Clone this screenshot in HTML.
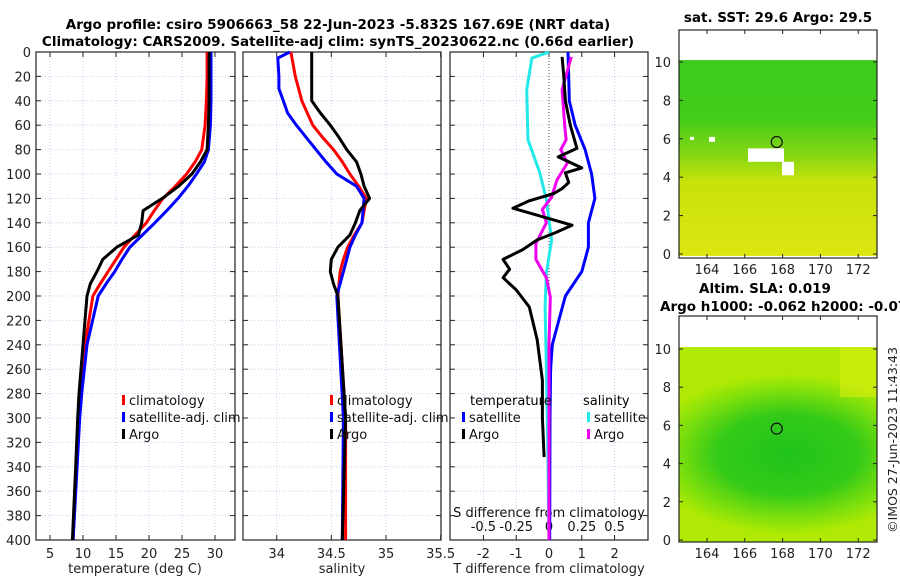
<!DOCTYPE html>
<html><head><meta charset="utf-8"><style>
body{margin:0;background:#fff;width:900px;height:580px;overflow:hidden}
svg{font-family:"DejaVu Sans","Liberation Sans",sans-serif}
</style></head><body>
<svg id="fig" width="900" height="580" viewBox="0 0 900 580" xmlns="http://www.w3.org/2000/svg">
<defs>
<linearGradient id="sstg" x1="0" y1="0" x2="0" y2="1">
<stop offset="0" stop-color="#3ccc1c"/><stop offset="0.3" stop-color="#44cc1a"/><stop offset="0.5" stop-color="#8cd812"/><stop offset="0.62" stop-color="#c8e20a"/><stop offset="1" stop-color="#dce610"/></linearGradient>
<radialGradient id="slag" cx="0.55" cy="0.55" r="0.55" gradientTransform="translate(0.55 0.55) scale(1.3 0.75) translate(-0.55 -0.55)">
<stop offset="0" stop-color="#20c41c"/><stop offset="0.5" stop-color="#34ca18"/><stop offset="0.8" stop-color="#80e00c"/><stop offset="1" stop-color="#b0ea04"/></radialGradient>
</defs>
<g id="root"></g>
</svg>
<script>
// ---- data ----
const depthT = [0,20,40,60,80,90,100,110,120,130,140,150,160,170,180,190,200,240,280,300,340,400];
const argoT  = [29.1,29.1,29.1,29.0,28.8,27.8,26.5,24.5,22.0,19.1,18.9,18.4,15.1,13.0,12.1,11.1,10.6,10.0,9.4,9.2,8.9,8.4];
const climT  = [28.8,28.8,28.7,28.5,28.0,27.0,25.7,24.0,22.1,20.8,19.6,17.9,16.2,15.0,13.8,12.6,11.5,10.3,9.6,9.4,9.0,8.5];
const satT   = [29.4,29.4,29.4,29.3,29.0,28.4,27.2,25.9,24.4,22.7,20.9,19.0,17.1,15.9,14.8,13.5,12.3,10.6,9.8,9.5,9.1,8.5];
const depthS = [0,5,20,30,40,50,60,70,80,90,100,110,120,130,140,150,160,170,180,190,200,300,400];
const argoS  = [34.32,34.32,34.32,34.32,34.32,34.40,34.49,34.57,34.64,34.73,34.77,34.80,34.85,34.76,34.72,34.67,34.56,34.50,34.49,34.52,34.56,34.63,34.60];
const climS  = [34.13,34.14,34.17,34.20,34.23,34.28,34.33,34.42,34.52,34.60,34.67,34.75,34.82,34.80,34.78,34.71,34.65,34.61,34.58,34.57,34.56,34.63,34.63];
const satS   = [34.12,34.01,34.02,34.02,34.06,34.10,34.18,34.27,34.36,34.45,34.55,34.73,34.80,34.79,34.78,34.72,34.67,34.64,34.61,34.58,34.55,34.61,34.60];
const depthD = [4,20,40,60,79,86,95,99,107,112,116,122,128,135,142,148,154,162,170,178,185,195,209,236,269,300,332];
const argoDT = [0.4,0.45,0.5,0.65,0.85,0.28,1.0,0.5,0.6,0.4,0.15,-0.6,-1.1,-0.2,0.7,0.2,-0.36,-0.8,-1.4,-1.2,-1.4,-1.0,-0.6,-0.36,-0.2,-0.2,-0.15];
const depthSat = [0,20,40,60,80,100,120,140,160,180,200,220,240,260,300,400];
const satDT  = [0.58,0.6,0.62,0.8,1.1,1.3,1.4,1.2,1.2,1.0,0.5,0.3,0.1,0.05,0.03,0.02];
const depthSS = [0,5,31,72,99,121,154,181,209,260,320,400];
const satDS  = [0.0,-0.13,-0.17,-0.16,-0.07,-0.02,0.02,-0.02,-0.03,-0.02,-0.01,0.0];
const depthAS = [4,31,60,72,80,91,105,119,129,140,157,170,185,201,240,300,400];
const argoDS = [0.17,0.10,0.12,0.13,0.09,0.14,0.06,0.02,-0.05,-0.02,-0.10,-0.10,-0.02,0.01,0.0,0.0,0.0];
const depthTicks = [0,20,40,60,80,100,120,140,160,180,200,220,240,260,280,300,320,340,360,380,400];
const tTicks = [5,10,15,20,25,30];
const sTicks = ["34","34.5","35","35.5"];
const dTicks = [-2,-1,0,1,2];
const dsTicks = ["-0.5","-0.25","0","0.25","0.5"];
const mapXTicks = [164,166,168,170,172];
const mapYTicks = [0,2,4,6,8,10];

const NS="http://www.w3.org/2000/svg";
const root=document.getElementById('root');
function el(tag,attrs,parent,text){const e=document.createElementNS(NS,tag);for(const k in attrs)e.setAttribute(k,attrs[k]);if(text!==undefined)e.textContent=text;(parent||root).appendChild(e);return e;}

const Y0=52, Y1=540;
const yD=d=>Y0+(d/400)*(Y1-Y0);
const xT=t=>50+(t-5)*6.6;
const xS=s=>276.7+(s-34)*109.3;
const xD=t=>549+t*32.8;
const xDS=s=>549+s*4*32.8;

function grid(g,x0,x1,xs){
  xs.forEach(x=>{el('line',{x1:x,x2:x,y1:Y0,y2:Y1,stroke:'#b8c4e8','stroke-width':0.8,'stroke-dasharray':'1,2'},g);});
  depthTicks.forEach(d=>{el('line',{x1:x0,x2:x1,y1:yD(d),y2:yD(d),stroke:'#b8c4e8','stroke-width':0.8,'stroke-dasharray':'1,2'},g);
    el('line',{x1:x0,x2:x0+5,y1:yD(d),y2:yD(d),stroke:'#222'},g);el('line',{x1:x1-5,x2:x1,y1:yD(d),y2:yD(d),stroke:'#222'},g);});
  xs.forEach(x=>{el('line',{x1:x,x2:x,y1:Y1-5,y2:Y1,stroke:'#222'},g);el('line',{x1:x,x2:x,y1:Y0,y2:Y0+5,stroke:'#222'},g);});
  el('rect',{x:x0,y:Y0,width:x1-x0,height:Y1-Y0,fill:'none',stroke:'#222','stroke-width':1.2},g);
}
function line(g,xs,ds,fx,color,name,w){
  const pts=xs.map((v,i)=>fx(v).toFixed(1)+','+yD(ds[i]).toFixed(1)).join(' ');
  const p=el('polyline',{points:pts,fill:'none',stroke:color,'stroke-width':w||3,'stroke-linejoin':'round'},g);
  
  
}
function legend(g,x,y,items){
  items.forEach((it,i)=>{el('rect',{x:x,y:y+i*17-10,width:3,height:10,fill:it[1]},g);
    const t=el('text',{x:x+7,y:y+i*17,'font-size':13,fill:'#111'},g,it[0]);
    
    });
}

el('text',{x:338,y:29,'font-size':13.5,'font-weight':'bold','text-anchor':'middle'},root,'Argo profile: csiro 5906663_58 22-Jun-2023 -5.832S 167.69E (NRT data)');
el('text',{x:338,y:46,'font-size':13.5,'font-weight':'bold','text-anchor':'middle'},root,'Climatology: CARS2009. Satellite-adj clim: synTS_20230622.nc (0.66d earlier)');

const g1=el('g',{});
grid(g1,36,235,tTicks.map(xT));
depthTicks.forEach(d=>el('text',{x:31,y:yD(d)+5,'font-size':13,'text-anchor':'end',fill:'#222'},g1,String(d)));
tTicks.forEach(t=>el('text',{x:xT(t),y:558,'font-size':13,'text-anchor':'middle',fill:'#222'},g1,String(t)));
el('text',{x:135,y:573,'font-size':13,'text-anchor':'middle',fill:'#222'},g1,'temperature (deg C)');
line(g1,climT,depthT,xT,'#ff0000','clim-temperature-line');
line(g1,satT,depthT,xT,'#0000ff','sat-temperature-line');
line(g1,argoT,depthT,xT,'#000','argo-temperature-line');
legend(g1,122,405,[['climatology','#ff0000'],['satellite-adj. clim','#0000ff'],['Argo','#000']]);

const g2=el('g',{});
grid(g2,243,441,sTicks.map(s=>xS(+s)));
sTicks.forEach(s=>el('text',{x:xS(+s),y:558,'font-size':13,'text-anchor':'middle',fill:'#222'},g2,s));
el('text',{x:342,y:573,'font-size':13,'text-anchor':'middle',fill:'#222'},g2,'salinity');
line(g2,climS,depthS,xS,'#ff0000','clim-salinity-line');
line(g2,satS,depthS,xS,'#0000ff','sat-salinity-line');
line(g2,argoS,depthS,xS,'#000','argo-salinity-line');
legend(g2,330,405,[['climatology','#ff0000'],['satellite-adj. clim','#0000ff'],['Argo','#000']]);

const g3=el('g',{});
grid(g3,450,648,dTicks.map(xD));
el('line',{x1:549,x2:549,y1:Y0,y2:Y1,stroke:'#444','stroke-dasharray':'1,2','stroke-width':1},g3);
dTicks.forEach(t=>el('text',{x:xD(t),y:558,'font-size':13,'text-anchor':'middle',fill:'#222'},g3,String(t)));
dsTicks.forEach(s=>el('text',{x:xDS(+s),y:531,'font-size':13,'text-anchor':'middle',fill:'#111'},g3,s));
el('text',{x:549,y:517,'font-size':13,'text-anchor':'middle',fill:'#111'},g3,'S difference from climatology');
el('text',{x:549,y:573,'font-size':13,'text-anchor':'middle',fill:'#222'},g3,'T difference from climatology');
line(g3,satDT,depthSat,xD,'#0000ff','sat-tdiff-line');
line(g3,satDS,depthSS,xDS,'#22e8e8','sat-sdiff-line');
line(g3,argoDS,depthAS,xDS,'#ee00ee','argo-sdiff-line');
line(g3,argoDT,depthD,xD,'#000','argo-tdiff-line');
el('text',{x:470,y:405,'font-size':13},g3,'temperature');
el('text',{x:583,y:405,'font-size':13},g3,'salinity');
legend(g3,462,422,[['satellite','#0000ff'],['Argo','#000']]);
legend(g3,587,422,[['satellite','#22e8e8'],['Argo','#ee00ee']]);

const mx=v=>707+(v-164)*18.9;
function map(top,bot,y0,y10,fill,name,title,extra){
  const g=el('g',{});
  const my=v=>y0+(v)*(y10-y0)/10;
  el('rect',{x:679,y:my(10.1),width:198,height:my(-0.1)-my(10.1),fill:fill},g);
  if(extra)extra(g,my);
  el('circle',{cx:mx(167.69),cy:my(5.832),r:5.5,fill:'none',stroke:'#111','stroke-width':1.2},g);
  el('rect',{x:679,y:top,width:198,height:bot-top,fill:'none',stroke:'#222','stroke-width':1.2},g);
  mapYTicks.forEach(v=>{el('line',{x1:679,x2:683,y1:my(v),y2:my(v),stroke:'#222'},g);el('line',{x1:873,x2:877,y1:my(v),y2:my(v),stroke:'#222'},g);
    el('text',{x:671,y:my(v)+5,'font-size':13,'text-anchor':'end',fill:'#222'},g,String(v));});
  mapXTicks.forEach(v=>{el('line',{x1:mx(v),x2:mx(v),y1:bot-4,y2:bot,stroke:'#222'},g);el('line',{x1:mx(v),x2:mx(v),y1:top,y2:top+4,stroke:'#222'},g);
    el('text',{x:mx(v),y:bot+16,'font-size':13,'text-anchor':'middle',fill:'#222'},g,String(v));});
  title.forEach(t=>el('text',{x:t[0],y:t[1],'font-size':13.5,'font-weight':'bold','text-anchor':t[2]},g,t[3]));
}
map(30,258,254,62,'url(#sstg)','sst-map',[[778,22,'middle','sat. SST: 29.6 Argo: 29.5']],(g,my)=>{
  el('rect',{x:748,y:my(5.5),width:36,height:my(4.8)-my(5.5),fill:'#fff'},g);
  el('rect',{x:782,y:my(4.8),width:12,height:my(4.1)-my(4.8),fill:'#fff'},g);
  el('rect',{x:709,y:my(6.1),width:6,height:5,fill:'#fff'},g);
  el('rect',{x:690,y:my(6.1),width:4,height:3,fill:'#fff'},g);
});
map(316,542,540,349,'url(#slag)','sla-map',[[765,293,'middle','Altim. SLA: 0.019'],[660,311,'start','Argo h1000: -0.062 h2000: -0.07']],(g,my)=>{
  el('rect',{x:840,y:my(10.1),width:37,height:50,fill:'#d8ec10',opacity:0.6},g);
});
const c=el('text',{x:0,y:0,'font-size':12.5,'text-anchor':'middle',transform:'translate(897,440) rotate(-90)',fill:'#222'},root,'©IMOS 27-Jun-2023 11:43:43');


</script>
</body></html>
